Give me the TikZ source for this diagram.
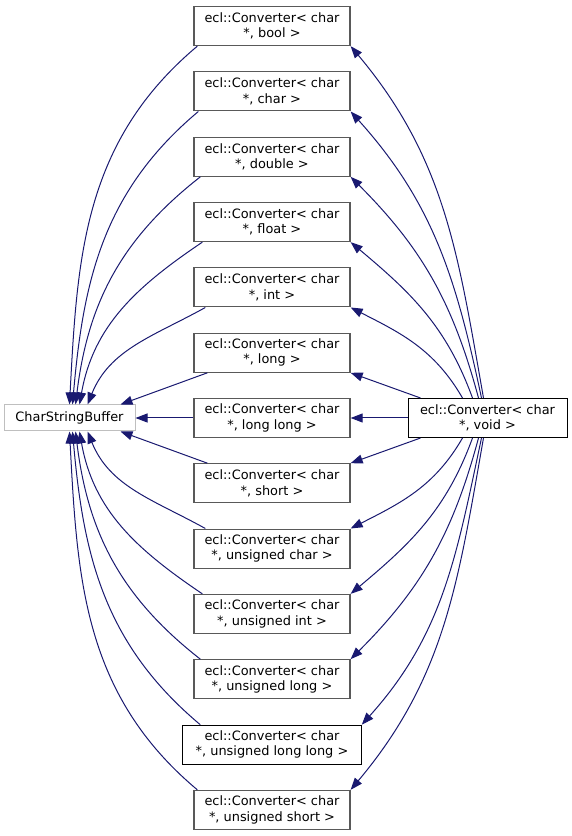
\documentclass[tikz,border=0pt]{standalone}
\usepackage{fontspec}
\setmainfont{DejaVu Sans}
\usetikzlibrary{arrows.meta}
\definecolor{edgeblue}{RGB}{25,25,112}
\begin{document}
\begin{tikzpicture}[x=1pt, y=1pt, >={Triangle[length=12pt,width=9pt]},
  cls/.style={draw=black!65, line width=1.3pt, fill=white, align=center,
    minimum width=156pt, minimum height=39pt, inner xsep=10pt, inner ysep=2pt,
    font=\fontsize{12.9}{15.5}\selectfont},
  plain/.style={}, wide/.style={draw=black, line width=1pt, inner xsep=13pt},
  link/.style={->, edgeblue, line width=1pt}]
  \useasboundingbox (0,0) rectangle (571,836);
  \node[cls, draw=black!25, line width=1pt, minimum width=131pt, minimum height=26pt] (buf) at (69.5,418) {CharStringBuffer};
  \node[cls, draw=black, line width=1pt, minimum width=159pt] (void) at (487.5,418) {ecl::Converter< char\\*, void >};
  \foreach \nm/\tp/\st [count=\i from 0] in {cbool/bool/plain, cchar/char/plain, cdouble/double/plain,
      cfloat/float/plain, cint/int/plain, clong/long/plain, cllong/long long/plain, cshort/short/plain,
      cuchar/unsigned char/plain, cuint/unsigned int/plain, culong/unsigned long/plain,
      cullong/unsigned long long/wide, cushort/unsigned short/plain}
    \node[cls, \st] (\nm) at (272, 418+65.33*6-65.33*\i) {ecl::Converter< char\\*, \tp{} >};
  \foreach \nm/\sx/\tx/\o/\n in {cbool/4/0/220/87, cchar/5/3/220/85, cdouble/7/6/218/83,
      cfloat/9/10/214/80, cint/12/18/209/68}
    \draw[link] ([xshift=\sx]\nm.south west) to[out=\o,in=\n] ([xshift=\tx]buf.north);
  \foreach \nm/\sx/\tx/\o/\n in {cushort/4/0/140/273, cullong/18/3/140/275, culong/7/6/142/277,
      cuint/9/10/146/280, cuchar/12/18/151/292}
    \draw[link] ([xshift=\sx]\nm.north west) to[out=\o,in=\n] ([xshift=\tx]buf.south);
  \foreach \nm/\sx/\o/\n in {cbool/-4/100/-50, cchar/-6/102/-48, cdouble/-9/105/-45,
      cfloat/-15/110/-40, cint/-25/120/-27}
    \draw[link] ([xshift=\sx]void.north) to[out=\o,in=\n] (\nm.south east);
  \foreach \nm/\sx/\o/\n in {cushort/-4/260/50, cullong/-6/258/48, culong/-9/255/45,
      cuint/-15/250/40, cuchar/-25/240/27}
    \draw[link] ([xshift=\sx]void.south) to[out=\o,in=\n] (\nm.north east);
  \draw[link] ([xshift=14]clong.south west) -- ([xshift=-15]buf.north east);
  \draw[link] (cllong.west) -- (buf.east);
  \draw[link] ([xshift=14]cshort.north west) -- ([xshift=-15]buf.south east);
  \draw[link] ([xshift=-67]void.north) -- (clong.south east);
  \draw[link] (void.west) -- (cllong.east);
  \draw[link] ([xshift=-67]void.south) -- (cshort.north east);
\end{tikzpicture}
\end{document}
